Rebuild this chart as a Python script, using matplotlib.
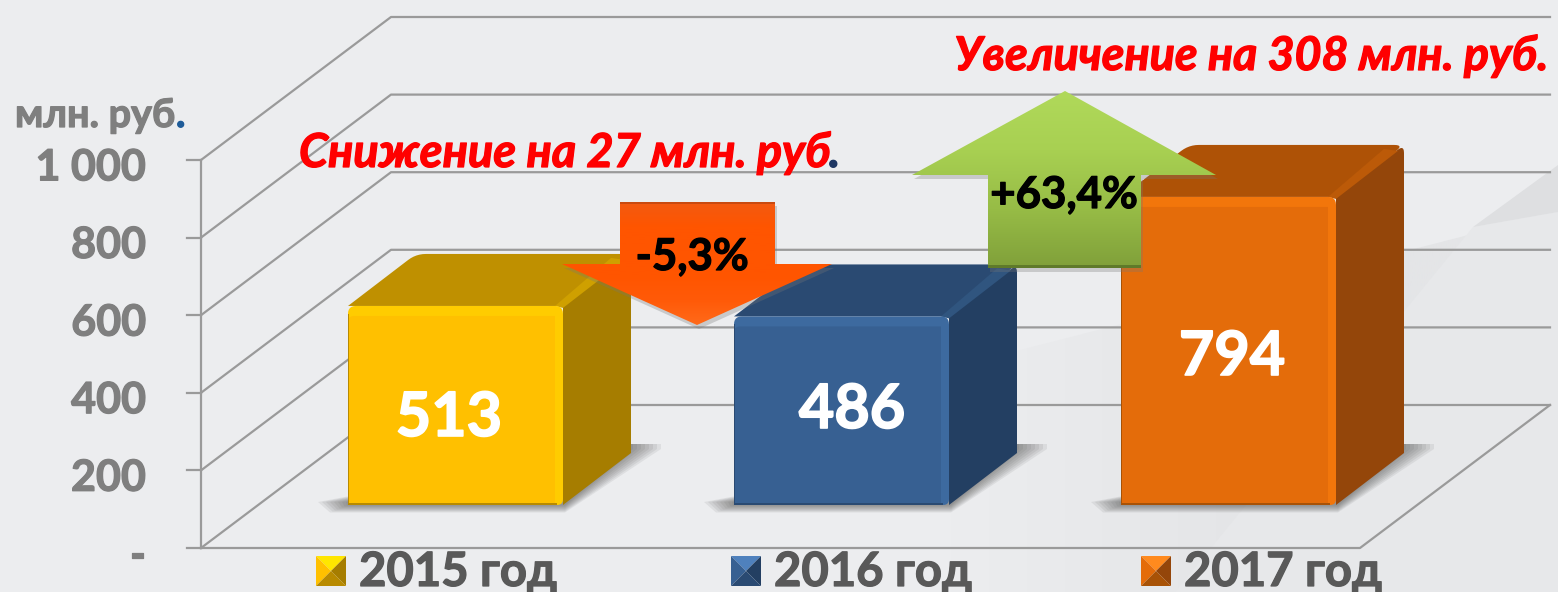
import matplotlib
matplotlib.use("Agg")
import matplotlib.pyplot as plt
from matplotlib.patches import Polygon
from matplotlib.colors import LinearSegmentedColormap
import matplotlib.patheffects as pe
import numpy as np

plt.rcParams['font.family'] = ['Lato', 'Open Sans', 'DejaVu Sans']

years = ["2015 год", "2016 год", "2017 год"]
values = [513, 486, 794]
ticks = [0, 200, 400, 600, 800, 1000]
tick_labels = ["-", "200", "400", "600", "800", "1 000"]
front = ["#FFC000", "#376092", "#E46C0A"]
light = ["#FFCC00", "#3D6A9F", "#F2760B"]
bright = ["#FFE600", "#4F81BD", "#FF8A1E"]
top = ["#BF9000", "#2A4A72", "#AE5206"]
side = ["#A67D00", "#233F62", "#94460A"]
edge = ["#CFA000", "#30557F", "#BC5A08"]
dark = ["#B88A00", "#2A4A72", "#A85206"]

W, H = 1558, 592
PX = 0.388           # pixels per unit on the value axis
Y0 = 548             # pixel row of value 0 on the front edge
fig = plt.figure(figsize=(W / 100, H / 100), dpi=100, facecolor="#ECEDEF")
ax = fig.add_axes([0, 0, 1, 1])


def py(row):
    return (Y0 - row) / PX


def rounded(pts, radii):
    """Round polygon corners; pts are (x, value), radii are in pixels."""
    p = np.array([(x, y * PX) for x, y in pts], float)
    out = []
    n = len(p)
    for i in range(n):
        a, b, c = p[i - 1], p[i], p[(i + 1) % n]
        r = radii[i]
        if r == 0:
            out.append(b)
            continue
        u = (a - b) / np.linalg.norm(a - b)
        v = (c - b) / np.linalg.norm(c - b)
        s, e = b + u * r, b + v * r
        for t in np.linspace(0, 1, 7):
            out.append((1 - t) ** 2 * s + 2 * t * (1 - t) * b + t ** 2 * e)
    out = np.array(out)
    out[:, 1] /= PX
    return out


def poly(pts, **kw):
    kw.setdefault("ec", "none")
    p = Polygon(pts, closed=True, **kw)
    ax.add_patch(p)
    return p


def grad(pts, colors, span, z, vertical=True):
    """Polygon filled with a gradient between two pixel rows (or columns)."""
    cm = LinearSegmentedColormap.from_list("g", colors)
    if vertical:
        im = ax.imshow(np.linspace(0, 1, 256)[:, None], cmap=cm, aspect="auto",
                       extent=(0, W, py(span[1]), py(span[0])), zorder=z, origin="upper")
    else:
        im = ax.imshow(np.linspace(0, 1, 256)[None, :], cmap=cm, aspect="auto",
                       extent=(span[0], span[1], py(H), py(0)), zorder=z, origin="upper")
    clip = poly(pts, fc="none", zorder=z)
    im.set_clip_path(clip)


def heavy(color, w=0.9):
    """Thicken Lato Bold towards the heavier weight of the reference."""
    return [pe.withStroke(linewidth=w, foreground=color)]


DX, DY = 190, 143 / PX   # wall depth
BASE = 43 / PX           # bars stand this far in on the floor
BD_X, BD_Y = 68, 52 / PX # bar depth

# faint background shapes
grad([(950, py(368)), (1558, py(212)), (1558, py(592)), (950, py(592))],
     ["#ECEDEF", "#E4E5E7", "#E4E5E7"], (950, 1558), 0, vertical=False)
poly([(1473, py(227)), (1558, py(212)), (1558, py(592)), (1175, py(592))], fc="#E7E8EA", zorder=0.1)
poly([(1558, py(165)), (1473, py(227)), (1558, py(212))], fc="#DEDFE1", zorder=0.1)

# grid walls
GRID = "#9A9A9A"
x0, x1 = 201, 1360
for t in ticks:
    ax.plot([x0, x0 + DX, 1550], [t, t + DY, t + DY], color=GRID, lw=1.6, zorder=1)
    ax.plot([x0 - 14, x0], [t, t], color=GRID, lw=1.6, zorder=1)
ax.plot([x0, x0], [0, 1000], color=GRID, lw=1.6, zorder=1)
ax.plot([x0, x1, 1550], [0, 0, DY], color=GRID, lw=1.6, zorder=1)

# tick labels
for t, lab in zip(ticks, tick_labels):
    ax.text(146, t - 19, lab, ha="right", va="center", fontsize=31, fontweight="bold", color="#7F7F7F", zorder=5,
            path_effects=heavy("#7F7F7F"))
ax.text(15, py(127), "млн. руб", ha="left", va="baseline", fontsize=28.5, fontweight="bold", color="#7F7F7F",
        path_effects=heavy("#7F7F7F"))
ax.text(176, py(127), ".", ha="left", va="baseline", fontsize=28.5, fontweight="bold", color="#1F5C99",
        path_effects=heavy("#1F5C99"))

# bars
xs = [348, 734, 1121]
label_x = [449, 852, 1232]
label_rows = [436, 428, 375]
bw = 215
for i, (x, v) in enumerate(zip(xs, values)):
    y0, y1 = BASE, BASE + v
    # soft floor shadow
    for g in range(30, -1, -4):
        poly([(x - g, y0 + 3 / PX), (x - 0.6 * g, y0 - g / 4 / PX), (x + bw + 2, y0 - g / 4 / PX),
              (x + bw + BD_X + g, y0 + BD_Y + 4 / PX), (x + bw + BD_X + g, y0 + BD_Y + 9 / PX),
              (x + bw + BD_X - 4, y0 + BD_Y + 9 / PX)],
             fc="#4A4A4A", alpha=0.09, zorder=2)
    # box faces
    poly(rounded([(x + bw, y1), (x, y1), (x + BD_X, y1 + BD_Y), (x + bw + BD_X, y1 + BD_Y)], [0, 0, 10, 10]),
         fc=top[i], zorder=3)
    poly(rounded([(x + bw, y0), (x + bw + BD_X, y0 + BD_Y), (x + bw + BD_X, y1 + BD_Y), (x + bw, y1)], [0, 0, 8, 0]),
         fc=side[i], zorder=3)
    poly([(x + bw, y1 - 2 / PX), (x + bw + BD_X - 6, y1 + BD_Y - 6 / PX), (x + bw + BD_X - 20, y1 + BD_Y - 4 / PX),
          (x + bw - 8, y1)], fc=edge[i], zorder=3.5)
    # front face with light bevel along the top and right edges
    poly(rounded([(x, y0), (x, y1), (x + bw, y1), (x + bw, y0)], [0, 8, 8, 6]), fc=light[i], zorder=4)
    poly(rounded([(x, y0), (x, y1 - 10 / PX), (x + bw - 8, y1 - 10 / PX), (x + bw - 8, y0)], [0, 6, 0, 0]),
         fc=front[i], zorder=4.2)
    poly([(x, y0), (x, y1 - 8 / PX), (x + 1.5, y1 - 8 / PX), (x + 1.5, y0)], fc=dark[i], zorder=4.3)
    poly([(x, y0), (x + bw - 6, y0), (x + bw - 6, y0 + 2 / PX), (x, y0 + 2 / PX)], fc=dark[i], zorder=4.3)
    ax.text(label_x[i], py(label_rows[i]), str(v), ha="center", va="baseline", fontsize=44,
            fontweight="bold", color="white", zorder=6, path_effects=heavy("white", 1.2))

# legend swatches and labels
leg_x = [316, 731, 1141]
for i, (x, lab) in enumerate(zip(leg_x, years)):
    t, b, m = py(556), py(586), py(571)
    poly([(x, t), (x + 30, t), (x + 15, m)], fc=bright[i], zorder=5.5)
    poly([(x, t), (x + 15, m), (x, b)], fc=front[i], zorder=5.5)
    poly([(x + 30, t), (x + 30, b), (x + 15, m)], fc=side[i], zorder=5.5)
    poly([(x, b), (x + 15, m), (x + 30, b)], fc=dark[i], zorder=5.5)
    ax.text(x + 43, py(586), lab, ha="left", va="baseline", fontsize=34, fontweight="bold",
            color="#595959", zorder=6, path_effects=heavy("#595959"))

# down arrow
down = [(620, py(202)), (775, py(202)), (775, py(264)), (832, py(264)), (697, py(325)), (562, py(264)), (620, py(264))]
poly([(a + 2, b - 4 / PX) for a, b in down], fc="#777777", alpha=0.3, zorder=6.5)
grad(down, ["#F25A12", "#FF5500", "#FF5500", "#FF5500", "#FF5A08", "#FF6A1A"], (202, 325), 7)
poly([(620, py(202)), (775, py(202)), (775, py(204)), (620, py(204))], fc="#C94A10", zorder=7.1)
ax.text(692, py(270), "-5,3%", ha="center", va="baseline", fontsize=31.5, fontweight="bold", color="black", zorder=8,
        path_effects=heavy("black"))

# up arrow
up = [(988, py(268)), (1141, py(268)), (1141, py(175)), (1216, py(175)), (1065, py(91)), (912, py(175)), (988, py(175))]
poly([(a + 2, b - 4 / PX) for a, b in up], fc="#777777", alpha=0.3, zorder=6.5)
grad(up, ["#B0D95A", "#A8D052", "#97BC46", "#80A03A"], (91, 268), 7)
poly([(988, py(268)), (1141, py(268)), (1141, py(265)), (988, py(265))], fc="#5F7A2A", zorder=7.1)
ax.text(1064, py(208), "+63,4%", ha="center", va="baseline", fontsize=31.5, fontweight="bold", color="black", zorder=8,
        path_effects=heavy("black"))

# annotations
ax.text(299, py(167), "Снижение на 27 млн. руб", ha="left", va="baseline", fontsize=33.7, fontweight="bold",
        style="italic", color="#FF0000", zorder=9, path_effects=heavy("#FF0000"))
ax.text(829, py(167), ".", ha="left", va="baseline", fontsize=33.7, fontweight="bold", style="italic",
        color="#1F3864", zorder=9, path_effects=heavy("#1F3864"))
ax.text(1548, py(70), "Увеличение на 308 млн. руб.", ha="right", va="baseline", fontsize=33.5, fontweight="bold",
        style="italic", color="#FF0000", zorder=9, path_effects=heavy("#FF0000"))

ax.set_xlim(0, W)
ax.set_ylim((Y0 - H) / PX, Y0 / PX)
ax.axis("off")
fig.savefig("out.png", dpi=100, facecolor=fig.get_facecolor())
